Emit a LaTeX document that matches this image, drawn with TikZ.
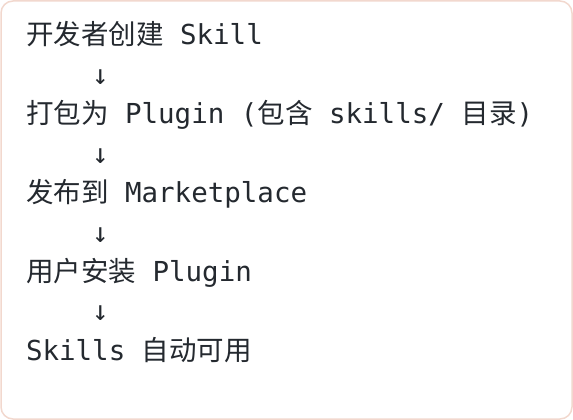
\documentclass[tikz,border=0pt]{standalone}
\usepackage{fontspec}
\setmainfont{DejaVu Sans Mono}
\setmonofont{DejaVu Sans Mono}
\newfontfamily\cjk{Noto Sans CJK SC}
\newcommand\zh[1]{{\cjk #1}}
\definecolor{borderc}{RGB}{242,216,206}
\definecolor{textc}{RGB}{36,41,47}
\begin{document}
\begin{tikzpicture}[x=1pt,y=-1pt,
  line/.style={anchor=base west,inner sep=0pt,outer sep=0pt,text=textc,
    font=\ttfamily\fontsize{27.5}{33}\selectfont},
  arrowtxt/.style={line}]
\useasboundingbox (0,0) rectangle (573,420);
\draw[borderc,line width=1.5pt,fill=white,rounded corners=12pt] (1,1) rectangle (572,419);
\newcommand\dn{\phantom{xxxx}\makebox[\fontcharwd\font`x][c]{↓}}
\node[line] (l1) at (26,45) {\zh{开发者创建} Skill};
\node[arrowtxt] (a1) at (26,84.4) {\dn};
\node[line] (l2) at (26,123.8) {\zh{打包为} Plugin (\zh{包含} skills/ \zh{目录})};
\node[arrowtxt] (a2) at (26,163.2) {\dn};
\node[line] (l3) at (26,202.6) {\zh{发布到} Marketplace};
\node[arrowtxt] (a3) at (26,242) {\dn};
\node[line] (l4) at (26,281.4) {\zh{用户安装} Plugin};
\node[arrowtxt] (a4) at (26,320.8) {\dn};
\node[line] (l5) at (26,360.2) {Skills \zh{自动可用}};
\end{tikzpicture}
\end{document}
